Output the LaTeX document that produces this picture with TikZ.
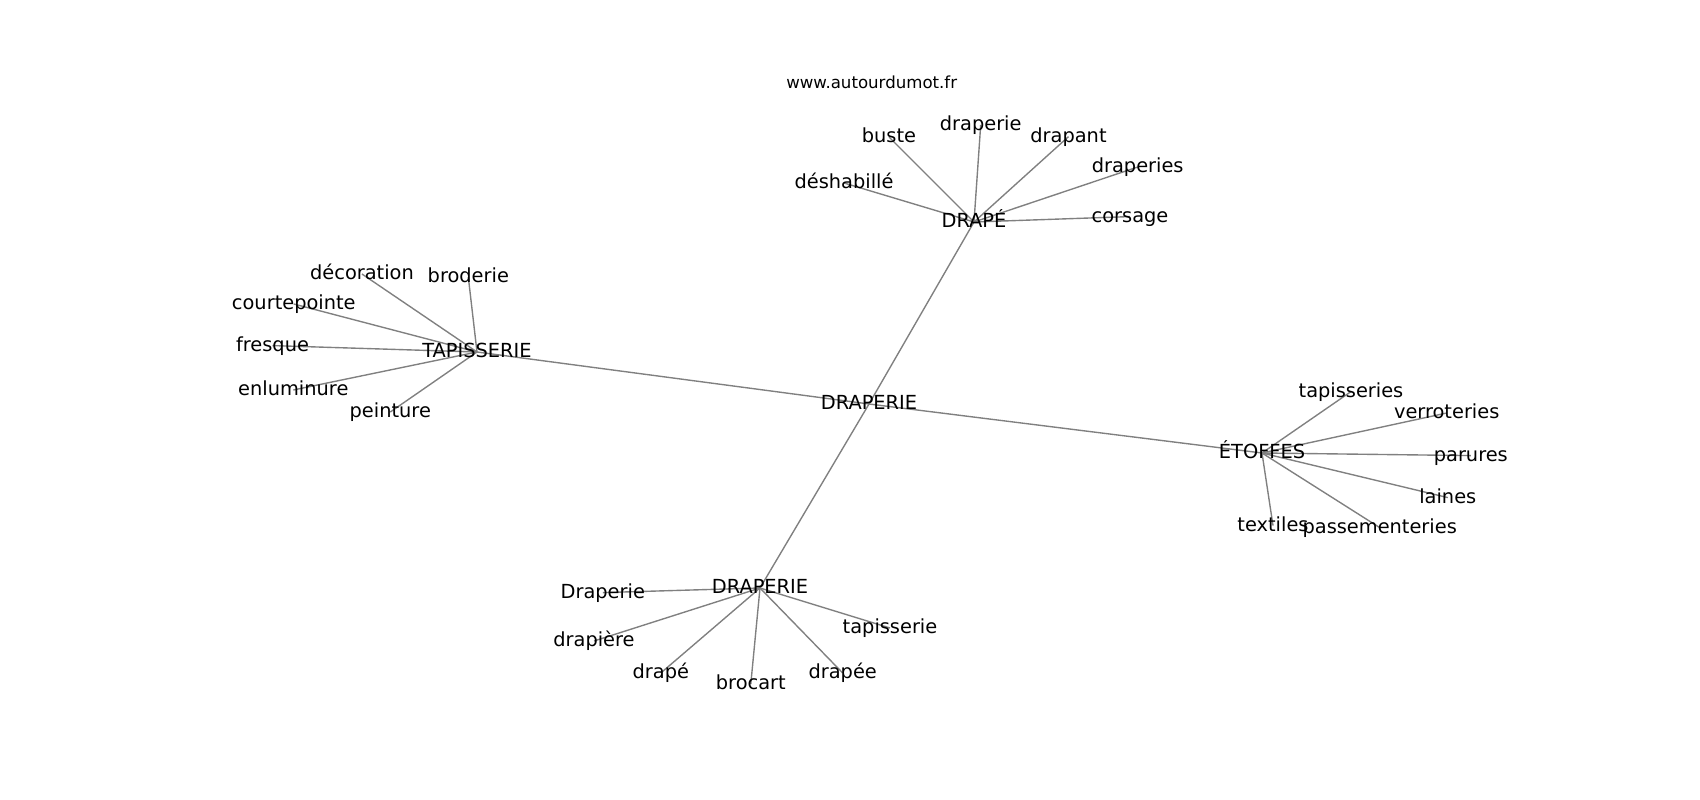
\documentclass[tikz,border=0pt]{standalone}
\usepackage{fontspec}
\setmainfont{DejaVu Sans}
\usepackage{tikz}
\usetikzlibrary{backgrounds}

\begin{document}
\begin{tikzpicture}[x=0.01in, y=-0.01in,
    word/.style={font=\fontsize{14}{16}\selectfont, inner sep=0pt, text height=11.3pt, text depth=2.7pt},
    link/.style={color=black!50, line width=1pt}]
    \useasboundingbox (0, 0) rectangle (1700, 800);

    % draw site name
    \node[font=\fontsize{12}{14}\selectfont, inner sep=0pt] (site) at (871.7, 82) {www.autourdumot.fr};

    % draw hub words
    \node[word] (draperie) at (869, 404) {DRAPERIE};
    \node[word] (drape) at (974, 222) {DRAPÉ};
    \node[word] (tapis) at (477, 352) {TAPISSERIE};
    \node[word] (etoffes) at (1262, 453) {ÉTOFFES};
    \node[word] (draperieb) at (760, 588) {DRAPERIE};

    % draw words round DRAPÉ
    \node[word] (buste) at (889, 137) {buste};
    \node[word] (draperiet) at (980.7, 125) {draperie};
    \node[word] (drapant) at (1068.5, 136.6) {drapant};
    \node[word] (deshabille) at (844, 183) {déshabillé};
    \node[word] (draperies) at (1137.7, 167) {draperies};
    \node[word] (corsage) at (1130, 216.6) {corsage};

    % draw words round TAPISSERIE
    \node[word] (decoration) at (362, 274) {décoration};
    \node[word] (broderie) at (468.3, 277) {broderie};
    \node[word] (courtepointe) at (293.8, 304) {courtepointe};
    \node[word] (fresque) at (272.5, 345.6) {fresque};
    \node[word] (enluminure) at (293.3, 390) {enluminure};
    \node[word] (peinture) at (390.3, 412) {peinture};

    % draw words round ÉTOFFES
    \node[word] (tapisseries) at (1351, 391.6) {tapisseries};
    \node[word] (verroteries) at (1446.7, 413) {verroteries};
    \node[word] (parures) at (1470.8, 455.6) {parures};
    \node[word] (laines) at (1447.8, 497.6) {laines};
    \node[word] (textiles) at (1273, 525.6) {textiles};
    \node[word] (passementeries) at (1379.7, 527.6) {passementeries};

    % draw words round the lower DRAPERIE
    \node[word] (Draperie) at (602.8, 592.6) {Draperie};
    \node[word] (drapiere) at (594, 641) {drapière};
    \node[word] (drapee) at (660.8, 673) {drapé};
    \node[word] (brocart) at (750.8, 684) {brocart};
    \node[word] (drapeee) at (842.7, 673) {drapée};
    \node[word] (tapisserie) at (890, 628) {tapisserie};

    % draw links under the words
    \begin{scope}[on background layer]
      \draw[link] (draperie.center) -- (drape.center);
      \draw[link] (draperie.center) -- (tapis.center);
      \draw[link] (draperie.center) -- (etoffes.center);
      \draw[link] (draperie.center) -- (draperieb.center);

      \draw[link] (drape.center) -- (buste.center);
      \draw[link] (drape.center) -- (draperiet.center);
      \draw[link] (drape.center) -- (drapant.center);
      \draw[link] (drape.center) -- (deshabille.center);
      \draw[link] (drape.center) -- (draperies.center);
      \draw[link] (drape.center) -- (corsage.center);

      \draw[link] (tapis.center) -- (decoration.center);
      \draw[link] (tapis.center) -- (broderie.center);
      \draw[link] (tapis.center) -- (courtepointe.center);
      \draw[link] (tapis.center) -- (fresque.center);
      \draw[link] (tapis.center) -- (enluminure.center);
      \draw[link] (tapis.center) -- (peinture.center);

      \draw[link] (etoffes.center) -- (tapisseries.center);
      \draw[link] (etoffes.center) -- (verroteries.center);
      \draw[link] (etoffes.center) -- (parures.center);
      \draw[link] (etoffes.center) -- (laines.center);
      \draw[link] (etoffes.center) -- (textiles.center);
      \draw[link] (etoffes.center) -- (passementeries.center);

      \draw[link] (draperieb.center) -- (Draperie.center);
      \draw[link] (draperieb.center) -- (drapiere.center);
      \draw[link] (draperieb.center) -- (drapee.center);
      \draw[link] (draperieb.center) -- (brocart.center);
      \draw[link] (draperieb.center) -- (drapeee.center);
      \draw[link] (draperieb.center) -- (tapisserie.center);
    \end{scope}

\end{tikzpicture}
\end{document}
